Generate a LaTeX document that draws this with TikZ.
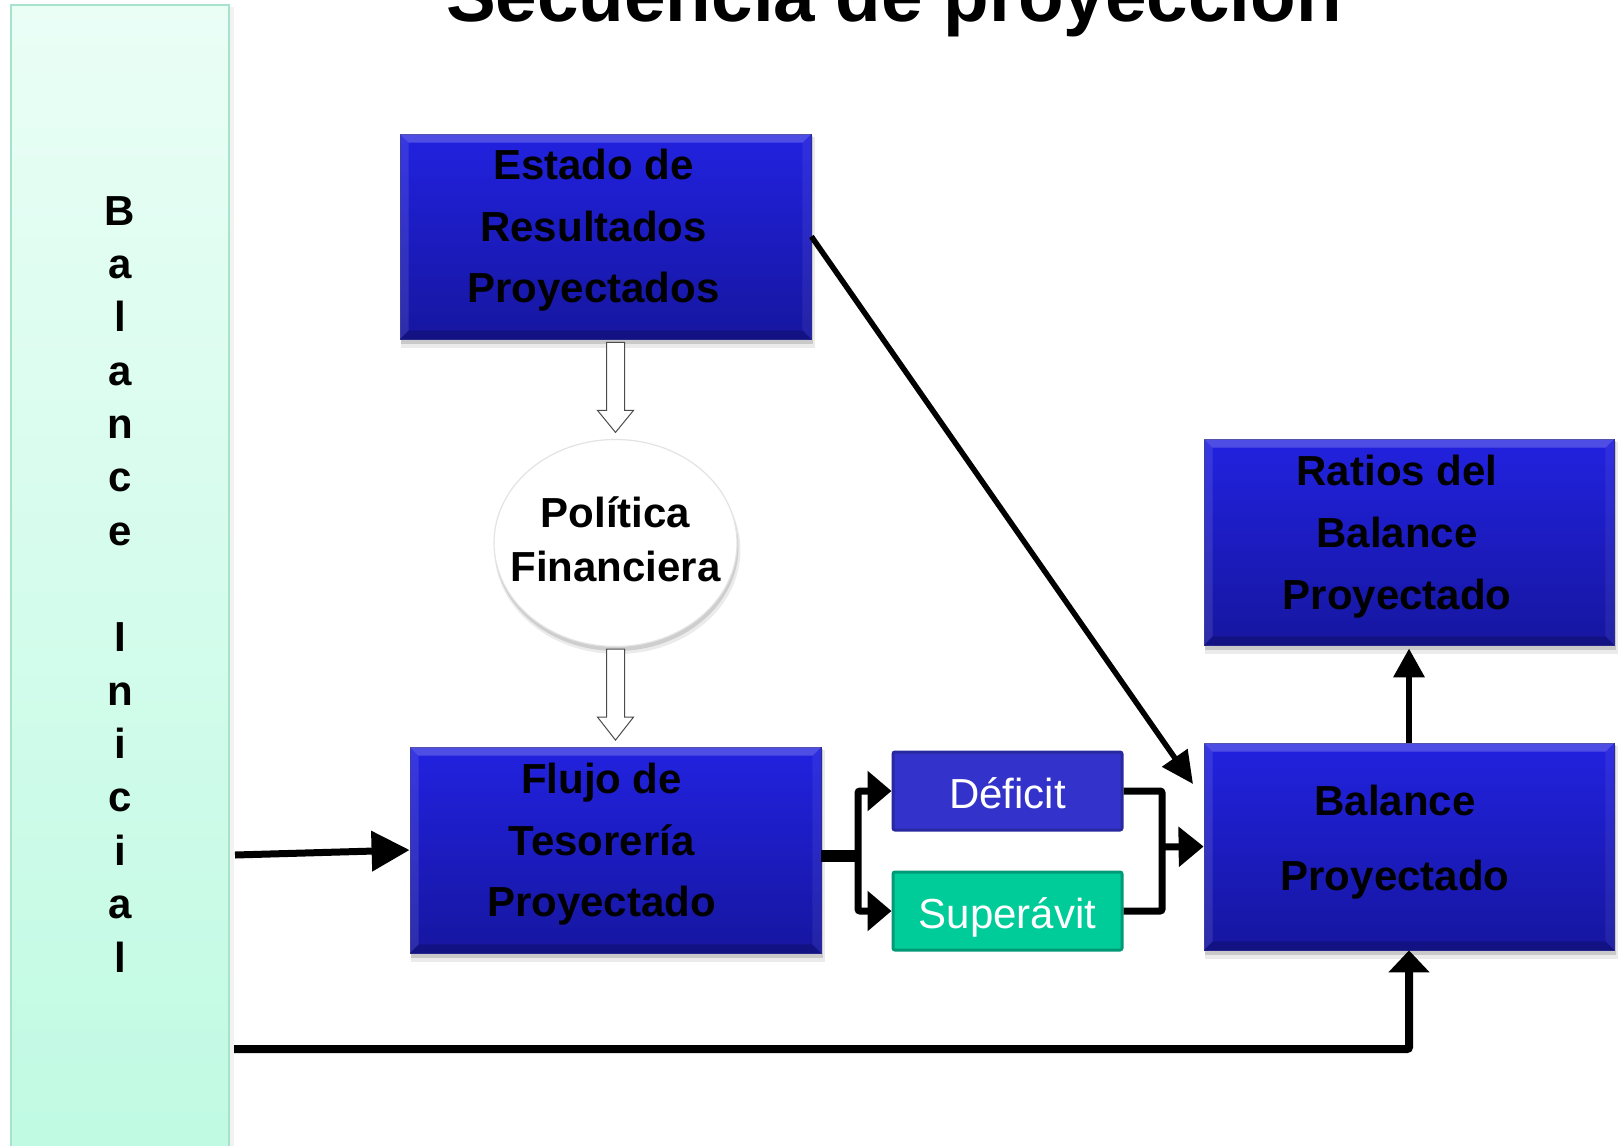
\documentclass[tikz,border=0pt]{standalone}
\usepackage{fontspec}
\setmainfont{Liberation Sans}
\usetikzlibrary{arrows.meta,calc,shapes.geometric}
\pgfdeclarelayer{back}
\pgfdeclarelayer{shadow}
\pgfsetlayers{back,shadow,main}
\definecolor{boxTop}{RGB}{34,34,224}
\definecolor{boxBot}{RGB}{22,22,160}
\definecolor{boxEdge}{RGB}{40,40,150}
\definecolor{barTop}{RGB}{234,254,246}
\definecolor{barBot}{RGB}{192,250,227}
\definecolor{barEdge}{RGB}{166,226,204}
\definecolor{defFill}{RGB}{51,51,204}
\definecolor{defEdge}{RGB}{40,40,160}
\definecolor{supFill}{RGB}{0,204,153}
\definecolor{supEdge}{RGB}{0,155,118}
\newcommand\stack[1]{\vtop{\halign{\hfil##\hfil\cr#1\crcr}}}
\newcommand\bevel[1]{%
  \fill[white,opacity=0.20] (#1.north west) -- (#1.north east) -- ($(#1.north east)+(-9,9)$) -- ($(#1.north west)+(9,9)$) -- cycle;
  \fill[white,opacity=0.10] (#1.north west) -- ($(#1.north west)+(9,9)$) -- ($(#1.south west)+(9,-9)$) -- (#1.south west) -- cycle;
  \fill[white,opacity=0.06] (#1.north east) -- ($(#1.north east)+(-9,9)$) -- ($(#1.south east)+(-9,-9)$) -- (#1.south east) -- cycle;
  \fill[black,opacity=0.18] (#1.south west) -- ($(#1.south west)+(9,-9)$) -- ($(#1.south east)+(-9,-9)$) -- (#1.south east) -- cycle;
}
\newcommand\boxshadow[1]{%
  \begin{pgfonlayer}{shadow}
  \fill[black,opacity=0.08] ($(#1.north west)+(1,3)$) rectangle ($(#1.south east)+(4,9)$);
  \fill[black,opacity=0.14] ($(#1.north west)+(1,2)$) rectangle ($(#1.south east)+(2,5)$);
  \end{pgfonlayer}}
\tikzset{
  bluebox/.style={rectangle, draw=boxEdge, line width=0.8pt, top color=boxTop, bottom color=boxBot, inner sep=0pt},
  barbox/.style={rectangle, draw=barEdge, line width=2pt, top color=barTop, bottom color=barBot, inner sep=0pt},
  boxtext/.style={anchor=base, inner sep=0pt, font=\fontsize{42}{61.5}\selectfont\bfseries, text=black},
  smallbox/.style={rectangle, minimum width=229pt, minimum height=78pt, line width=3pt, rounded corners=2pt, text=white, font=\fontsize{42}{48}\selectfont, text height=34pt, text depth=0pt, inner sep=0pt},
  conn/.style={draw=black, line width=7pt, rounded corners=2pt},
  hollow/.style={draw=gray!60!black, fill=white, line width=1pt, line join=miter},
}
\begin{document}
\begin{tikzpicture}[x=1pt,y=-1pt]
\begin{pgfonlayer}{back}
\fill[white] (0,0) rectangle (1621,1145);
\end{pgfonlayer}
\useasboundingbox (0,0) rectangle (1621,1145);

% title
\node[anchor=base, inner sep=0pt, font=\fontsize{74.6}{80}\selectfont\bfseries] (title) at (894,22) {Secuencia de proyección};

% left bar
\node[barbox, minimum width=218pt, minimum height=1147pt] (bar) at (120,578.5) {};
\begin{pgfonlayer}{shadow}
\fill[black,opacity=0.05] ($(bar.north east)+(0,3)$) rectangle ($(bar.south east)+(4,0)$);
\end{pgfonlayer}
\node[boxtext, font=\fontsize{42}{53.36}\selectfont\bfseries] (barT) at ($(bar.north)+(0,221)$) {\stack{B\cr a\cr l\cr a\cr n\cr c\cr e\cr \cr I\cr n\cr i\cr c\cr i\cr a\cr l}};

% blue boxes
\node[bluebox, minimum width=411pt, minimum height=205pt] (estado) at (605.5,236.5) {};
\node[bluebox, minimum width=411pt, minimum height=206pt] (flujo) at (615.5,850) {};
\node[bluebox, minimum width=410pt, minimum height=206pt] (ratios) at (1409,542) {};
\node[bluebox, minimum width=410pt, minimum height=207pt] (balance) at (1409,846.5) {};
\bevel{estado}\bevel{flujo}\bevel{ratios}\bevel{balance}
\boxshadow{estado}\boxshadow{flujo}\boxshadow{ratios}\boxshadow{balance}

\node[boxtext] (estadoT) at ($(estado.north)+(-12,46)$) {\stack{Estado de\cr Resultados\cr Proyectados}};
\node[boxtext] (flujoT) at ($(flujo.north)+(-14,47)$) {\stack{Flujo de\cr Tesorería\cr Proyectado}};
\node[boxtext, font=\fontsize{42}{62}\selectfont\bfseries] (ratiosT) at ($(ratios.north)+(-12,47)$) {\stack{Ratios del\cr Balance\cr Proyectado}};
\node[boxtext, font=\fontsize{42}{74.4}\selectfont\bfseries] (balanceT) at ($(balance.north)+(-14,73)$) {\stack{Balance\cr Proyectado}};

% ellipse
\node[ellipse, minimum width=243pt, minimum height=207pt, fill=white, draw=gray!22, line width=1.2pt, inner sep=0pt] (politica) at (615.5,543) {};
\begin{pgfonlayer}{shadow}
\fill[black,opacity=0.08] ($(politica.center)+(2,7)$) ellipse [x radius=123pt, y radius=104pt];
\fill[black,opacity=0.12] ($(politica.center)+(1,4)$) ellipse [x radius=122pt, y radius=104pt];
\end{pgfonlayer}
\node[boxtext, font=\fontsize{42}{54}\selectfont\bfseries] (politicaT) at ($(politica.center)+(0,-16)$) {\stack{Política\cr Financiera}};

% small boxes
\node[smallbox, fill=defFill, draw=defEdge] (deficit) at (1007.5,791) {Déficit};
\node[smallbox, fill=supFill, draw=supEdge] (superavit) at (1007.5,911) {Superávit};

% hollow arrows
\coordinate (h1) at (politica.north |- estado.south);
\draw[hollow] ($(h1)+(-9,3)$) -- ++(0,68) -- ++(-9,0) -- ++(18,22) -- ++(18,-22) -- ++(-9,0) -- ++(0,-68) -- cycle;
\coordinate (h2) at (politica.south);
\draw[hollow] ($(h2)+(-9,2)$) -- ++(0,68) -- ++(-9,0) -- ++(18,23) -- ++(18,-23) -- ++(-9,0) -- ++(0,-68) -- cycle;

% connectors
\coordinate (split) at (858,856);
\coordinate (join) at (1162,847);
\coordinate (diagEnd) at (1193,784);
\coordinate (botL) at (234,1049);
\coordinate (inL) at (235,855);

\draw[conn, line width=7pt, -{Triangle[length=38pt,width=39pt]}] (inL) -- (flujo.west);
\draw[conn, line width=8pt, -{Triangle[length=22pt,width=40pt]}] (botL) -| (balance.south);
\draw[conn, line width=5.5pt, -{Triangle[length=32pt,width=30pt]}] (estado.east) -- (diagEnd);
\draw[conn, line width=6.5pt, shorten >=3pt, -{Triangle[length=29pt,width=30pt]}] (balance.north) -- (ratios.south);
\draw[conn, line width=12pt, rounded corners=0pt] (flujo.east |- split) -- (split);
\draw[conn, -{Triangle[length=24pt,width=39pt]}] (split) |- (deficit.west);
\draw[conn, -{Triangle[length=24pt,width=39pt]}] (split) |- (superavit.west);
\draw[conn] (deficit.east) -| (join);
\draw[conn] (superavit.east) -| (join);
\draw[conn, -{Triangle[length=25pt,width=39pt]}] (join) -- (balance.west);
\end{tikzpicture}
\end{document}
